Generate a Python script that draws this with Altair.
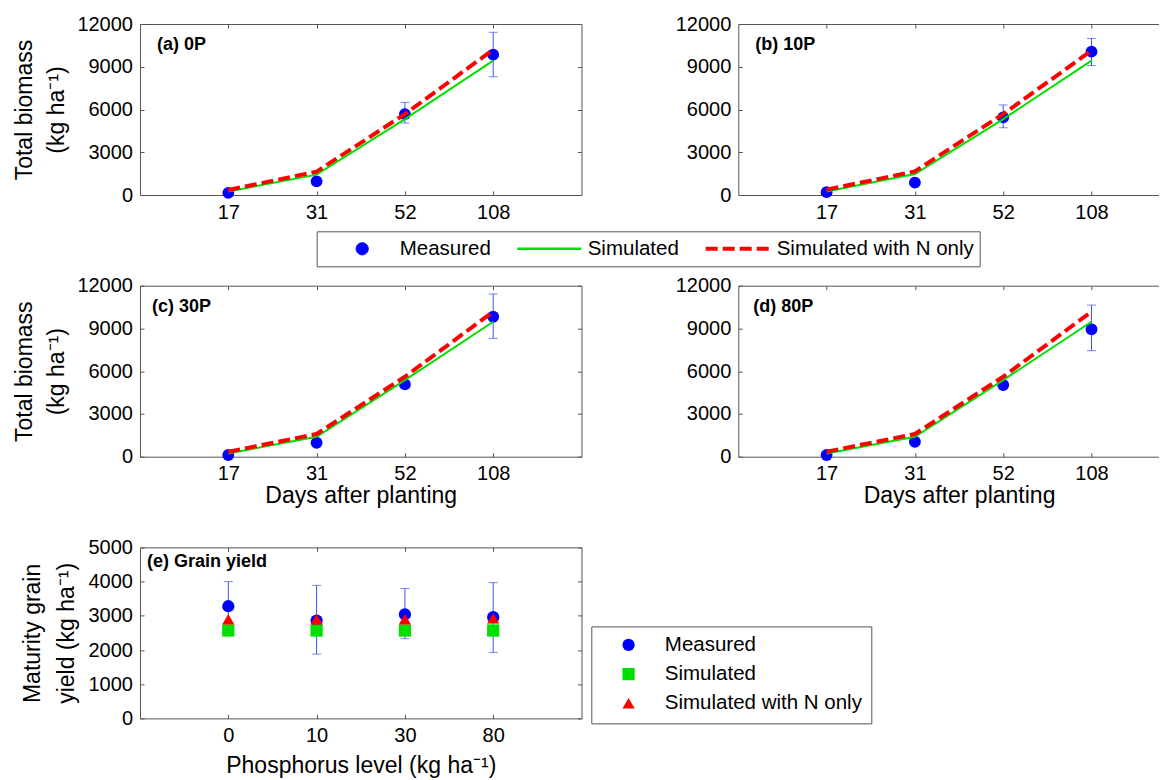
import altair as alt
import pandas as pd

# ---------------- data ----------------
days = [17, 31, 52, 108]
series_names = ["Measured", "Simulated", "Simulated with N only"]

meas_0P = [150, 960, 5680, 9850]
lo_0P = [None, None, 5050, 8300]
hi_0P = [None, None, 6500, 11420]
sim_0P = [250, 1430, 5330, 9430]
simN_0P = [350, 1640, 5680, 10200]

meas_10P = [200, 870, 5450, 10060]
lo_10P = [None, None, 4720, 9080]
hi_10P = [None, None, 6320, 10990]
sim_10P = [250, 1470, 5330, 9430]
simN_10P = [370, 1660, 5680, 10130]

meas_30P = [120, 980, 5080, 9820]
lo_30P = [None, None, None, 8300]
hi_30P = [None, None, None, 11420]
sim_30P = [230, 1400, 5380, 9470]
simN_30P = [350, 1590, 5610, 10180]

meas_80P = [120, 1050, 5030, 8940]
lo_80P = [None, None, None, 7440]
hi_80P = [None, None, None, 10640]
sim_80P = [230, 1400, 5380, 9470]
simN_80P = [350, 1590, 5610, 10180]

p_levels = [0, 10, 30, 80]
grain_meas = [3280, 2860, 3040, 2960]
grain_lo = [2560, 1880, 2330, 1930]
grain_hi = [4000, 3890, 3800, 3970]
grain_sim = [2570, 2570, 2570, 2570]
grain_simN = [2900, 2900, 2900, 2930]

FONT = "Liberation Sans"
BLUE = "#0000ff"
GREEN = "#00e000"
RED = "#ff0000"
ERR = "#4050ff"
W, H = 441.5, 171
TITLE_FS = 23


def main_axes(xtitle, ytitle, yvalues, xtitle_y, ytitle_x, ylh):
    xa = alt.Axis(title=xtitle if xtitle else None, labelAngle=0, offset=-4, tickSize=4,
                  labelPadding=7, labelFontSize=20, titleFontSize=TITLE_FS, titleY=xtitle_y,
                  titleFontWeight="normal")
    ya = alt.Axis(title=ytitle if ytitle else None, values=yvalues, format="d", offset=-4,
                  tickSize=4, labelPadding=7.5, labelFontSize=20, titleFontSize=TITLE_FS,
                  titleLineHeight=ylh, titleX=ytitle_x, titleFontWeight="normal")
    return xa, ya


def mirror_axes(yvalues):
    xa = alt.Axis(orient="top", title=None, labels=False, offset=-4, tickSize=4)
    ya = alt.Axis(orient="right", title=None, labels=False, values=yvalues, offset=-4, tickSize=4)
    return xa, ya


def biomass_panel(label, meas, lo, hi, sim, simN, ytitle, xtitle, lab_dx, legend=None):
    yvals = [0, 3000, 6000, 9000, 12000]
    xa, ya = main_axes(xtitle, ytitle, yvals, 32, -108, 32)
    xm, ym = mirror_axes(yvals)
    xs = alt.Scale(type="point", padding=1, domain=days)
    ys = alt.Scale(domain=[0, 12000])

    def X(ax=None):
        return alt.X("day:O", scale=xs, axis=ax)

    def Y(f, ax=None):
        return alt.Y(f + ":Q", scale=ys, axis=ax)

    df_m = pd.DataFrame({"day": days, "value": meas})
    df_e = pd.DataFrame({"day": days, "lo": lo, "hi": hi}).dropna()
    df_s = pd.DataFrame({"day": days, "value": sim})
    df_n = pd.DataFrame({"day": days, "value": simN})
    df_t = pd.DataFrame({"t": [label]})

    rule = alt.Chart(df_e).mark_rule(color=ERR, strokeWidth=1).encode(
        x=X(), y=Y("lo"), y2="hi")
    cap_lo = alt.Chart(df_e).mark_tick(color=ERR, thickness=1, size=9, orient="horizontal").encode(
        x=X(), y=Y("lo"))
    cap_hi = alt.Chart(df_e).mark_tick(color=ERR, thickness=1, size=9, orient="horizontal").encode(
        x=X(), y=Y("hi"))
    pts = alt.Chart(df_m).mark_circle(size=140, color=BLUE, opacity=1).encode(
        x=X(xm), y=Y("value", ym))
    ls = alt.Chart(df_s).mark_line(color=GREEN, strokeWidth=2).encode(
        x=X(xa), y=Y("value", ya))
    ln = alt.Chart(df_n).mark_line(color=RED, strokeWidth=4, strokeDash=[12, 5]).encode(
        x=X(), y=Y("value"))
    txt = alt.Chart(df_t).mark_text(align="left", baseline="middle", font=FONT,
                                    fontWeight="bold", fontSize=18, color="black").encode(
        x=alt.value(lab_dx), y=alt.value(21), text="t:N")
    layers = [rule, cap_lo, cap_hi, pts, ls, ln, txt]

    if legend is not None:
        circle_path = "M-0.19,0A0.19,0.19,0,1,0,0.19,0A0.19,0.19,0,1,0,-0.19,0Z"
        line_path = "M-1,0H1"
        leg_df = pd.DataFrame({"series": series_names, "day": [17, 17, 17],
                               "value": [None, None, None]})
        dom = series_names
        lay = alt.Chart(leg_df).mark_point(filled=True, opacity=1).encode(
            x=X(), y=Y("value"),
            fill=alt.Fill("series:N", scale=alt.Scale(domain=dom, range=[BLUE, GREEN, RED]),
                          legend=legend),
            stroke=alt.Stroke("series:N", scale=alt.Scale(domain=dom, range=[BLUE, GREEN, RED]),
                              legend=legend),
            shape=alt.Shape("series:N", scale=alt.Scale(domain=dom,
                                                        range=[circle_path, line_path, line_path]),
                            legend=legend),
            strokeDash=alt.StrokeDash("series:N", scale=alt.Scale(domain=dom,
                                                                  range=[[1, 0], [1, 0], [12, 5]]),
                                      legend=legend),
            strokeWidth=alt.StrokeWidth("series:N", scale=alt.Scale(type="point", domain=dom,
                                                                    range=[1, 4]),
                                        legend=legend),
        )
        layers.append(lay)
    return alt.layer(*layers).resolve_axis(x="independent", y="independent").properties(
        width=W, height=H)


leg1 = alt.Legend(title=None, orient="none", legendX=176.7, legendY=207.3,
                  direction="horizontal", symbolSize=4096, clipHeight=25, padding=5,
                  symbolOffset=8, labelOffset=5, columnPadding=16, labelFontSize=20.5,
                  labelFont=FONT, labelColor="black", strokeColor="#555555",
                  fillColor="white", symbolLimit=10, labelLimit=400)

ytitle_bio = ["Total biomass", "(kg ha\u207b\u00b9)"]
pa = biomass_panel("(a) 0P", meas_0P, lo_0P, hi_0P, sim_0P, simN_0P, ytitle_bio, None, 17, leg1)
pb = biomass_panel("(b) 10P", meas_10P, lo_10P, hi_10P, sim_10P, simN_10P, None, None, 17)
pc = biomass_panel("(c) 30P", meas_30P, lo_30P, hi_30P, sim_30P, simN_30P, ytitle_bio,
                   "Days after planting", 12)
pd_ = biomass_panel("(d) 80P", meas_80P, lo_80P, hi_80P, sim_80P, simN_80P, None,
                    "Days after planting", 15)

# ---------------- panel (e) ----------------
e_yvals = [0, 1000, 2000, 3000, 4000, 5000]
ex, ey = main_axes("Phosphorus level (kg ha\u207b\u00b9)",
                   ["Maturity grain", "yield (kg ha\u207b\u00b9)"], e_yvals, 40, -100, 34)
exm, eym = mirror_axes(e_yvals)
exs = alt.Scale(type="point", padding=1, domain=p_levels)
eys = alt.Scale(domain=[0, 5000])

df_ge = pd.DataFrame({"p": p_levels, "lo": grain_lo, "hi": grain_hi})
df_gp = pd.DataFrame({
    "p": p_levels * 3,
    "value": grain_meas + grain_sim + grain_simN,
    "series": [series_names[0]] * 4 + [series_names[1]] * 4 + [series_names[2]] * 4,
})
leg2 = alt.Legend(title=None, orient="none", legendX=451.3, legendY=79, direction="vertical",
                  symbolSize=150, clipHeight=19, rowPadding=8.2, padding=9, symbolOffset=18,
                  labelOffset=26, labelFontSize=20.5, labelFont=FONT, labelColor="black",
                  strokeColor="#555555", fillColor="white", labelLimit=400)

e_rule = alt.Chart(df_ge).mark_rule(color=ERR, strokeWidth=1).encode(
    x=alt.X("p:O", scale=exs, axis=exm), y=alt.Y("lo:Q", scale=eys, axis=eym), y2="hi")
e_lo = alt.Chart(df_ge).mark_tick(color=ERR, thickness=1, size=9, orient="horizontal").encode(
    x=alt.X("p:O", scale=exs, axis=None), y=alt.Y("lo:Q", scale=eys, axis=None))
e_hi = alt.Chart(df_ge).mark_tick(color=ERR, thickness=1, size=9, orient="horizontal").encode(
    x=alt.X("p:O", scale=exs, axis=None), y=alt.Y("hi:Q", scale=eys, axis=None))
e_pts = alt.Chart(df_gp).mark_point(filled=True, size=150, opacity=1).encode(
    x=alt.X("p:O", scale=exs, axis=ex),
    y=alt.Y("value:Q", scale=eys, axis=ey),
    fill=alt.Fill("series:N", scale=alt.Scale(domain=series_names, range=[BLUE, GREEN, RED]),
                  legend=leg2),
    shape=alt.Shape("series:N", scale=alt.Scale(domain=series_names,
                                                range=["circle", "square", "triangle-up"]),
                    legend=leg2),
)
e_txt = alt.Chart(pd.DataFrame({"t": ["(e) Grain yield"]})).mark_text(
    align="left", baseline="middle", font=FONT, fontWeight="bold", fontSize=18,
    color="black").encode(x=alt.value(7), y=alt.value(15), text="t:N")
pe = alt.layer(e_rule, e_lo, e_hi, e_pts, e_txt).resolve_axis(
    x="independent", y="independent").properties(width=W, height=H)

ind = dict(fill="independent", stroke="independent", shape="independent",
           strokeDash="independent", strokeWidth="independent")

chart = alt.concat(pa, pb, pc, pd_, pe, columns=2,
                   spacing={"row": 90.7, "column": 156.3}, bounds="flush").resolve_scale(
    **ind).resolve_legend(**ind).properties(
    padding={"left": 4, "top": 5, "right": -22, "bottom": 0}
).configure_view(stroke="#555555", strokeWidth=1).configure_axis(
    labelFont=FONT, titleFont=FONT, labelColor="black", titleColor="black",
    tickColor="#555555", grid=False, domain=False
).configure_legend(labelFont=FONT).configure_text(font=FONT)

chart.save("out.html", embed_options={"renderer": "svg", "actions": False})
